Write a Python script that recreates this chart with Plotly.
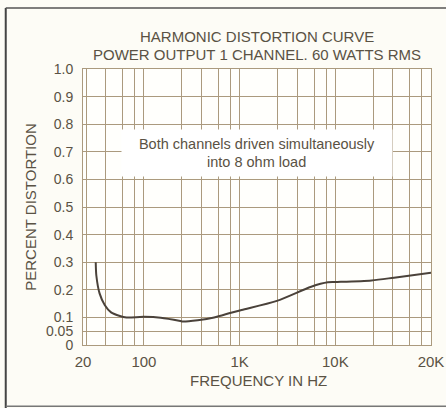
import numpy as np
import plotly.graph_objects as go

# Curve (frequency in Hz, percent distortion)
freq_hz = [28, 28.5, 31, 35.5, 42, 53, 63, 100, 150, 240, 255, 365, 542, 815,
           1050, 2450, 5600, 8350, 10000, 13000, 15300, 20000]
distortion = [0.300, 0.250, 0.187, 0.145, 0.118, 0.105, 0.100, 0.102, 0.099,
              0.087, 0.085, 0.090, 0.100, 0.117, 0.127, 0.160, 0.211, 0.227,
              0.228, 0.234, 0.244, 0.262]

# x tick labels as printed on the chart
x_tick_labels = ["20", "100", "1K", "10K", "20K"]
x_tick_hz = [20, 100, 1000, 10000, 20000]
# y tick labels
y_tick_vals = [0, 0.05, 0.1, 0.2, 0.3, 0.4, 0.5, 0.6, 0.7, 0.8, 0.9, 1.0]
y_tick_labels = ["0", "0.05", "0.1", "0.2", "0.3", "0.4", "0.5", "0.6",
                 "0.7", "0.8", "0.9", "1.0"]

# The printed graph paper is a log grid whose end labels (20, 20K) sit on the
# paper's edges; the paper positions of the labelled ticks:
paper_pos_hz = [23.1, 100, 1000, 10000, 100000]
paper_minor_hz = [25, 40, 60, 80, 250, 400, 600, 800, 2500, 4000, 6000, 8000,
                  25000, 40000, 60000, 80000]


def to_paper(f):
    return 10 ** np.interp(np.log10(f), np.log10(x_tick_hz), np.log10(paper_pos_hz))


x_plot = to_paper(np.array(freq_hz, dtype=float))

TXT = "#5a5244"
GRID = "#ab9a7e"
FONT = "Liberation Sans, Arial, sans-serif"

fig = go.Figure()
fig.add_trace(go.Scatter(
    x=x_plot, y=distortion, mode="lines",
    line=dict(color="#4a423a", width=2, shape="spline", smoothing=0.8),
    hoverinfo="skip", showlegend=False,
))

fig.update_xaxes(
    type="log", range=[np.log10(23.1), 5.0],
    tickmode="array", tickvals=paper_pos_hz, ticktext=x_tick_labels,
    showgrid=True, gridcolor=GRID, gridwidth=1,
    minor=dict(tickmode="array", tickvals=paper_minor_hz, showgrid=True,
               gridcolor=GRID, gridwidth=1, ticks=""),
    showline=True, mirror=True, linecolor=GRID, linewidth=1,
    ticks="", ticklabelstandoff=3, automargin=False,
    tickfont=dict(family=FONT, size=15, color=TXT),
    zeroline=False, fixedrange=True,
)
fig.update_yaxes(
    range=[0, 1.0], tickmode="array", tickvals=y_tick_vals, ticktext=y_tick_labels,
    showgrid=True, gridcolor=GRID, gridwidth=1,
    showline=True, mirror=True, linecolor=GRID, linewidth=1,
    ticks="", ticklabelstandoff=6, automargin=False,
    tickfont=dict(family=FONT, size=14, color=TXT),
    zeroline=False, fixedrange=True,
)

annotations = [
    dict(text="HARMONIC DISTORTION CURVE", x=0.5, y=1.116, xref="paper", yref="paper",
         showarrow=False, xanchor="center", yanchor="middle",
         font=dict(family=FONT, size=15, color=TXT)),
    dict(text="POWER OUTPUT 1 CHANNEL. 60 WATTS RMS", x=0.5, y=1.051, xref="paper",
         yref="paper", showarrow=False, xanchor="center", yanchor="middle",
         font=dict(family=FONT, size=15, color=TXT)),
    dict(text="FREQUENCY IN HZ", x=0.503, y=-0.129, xref="paper", yref="paper",
         showarrow=False, xanchor="center", yanchor="middle",
         font=dict(family=FONT, size=15, color=TXT)),
    dict(text="PERCENT DISTORTION", x=-0.153, y=0.5, xref="paper", yref="paper",
         showarrow=False, xanchor="center", yanchor="middle", textangle=-90,
         font=dict(family=FONT, size=15, color=TXT)),
    dict(text="Both channels driven simultaneously<br>into 8 ohm load",
         x=0.501, y=0.696, xref="paper", yref="paper", showarrow=False,
         xanchor="center", yanchor="middle", width=268, height=44,
         bgcolor="#ffffff", align="center", valign="middle",
         font=dict(family=FONT, size=14.5, color=TXT)),
]

shapes = [
    dict(type="line", xref="paper", yref="paper", x0=-0.222, x1=-0.222,
         y0=1.221, y1=-0.23, line=dict(color="#444444", width=2)),
    dict(type="line", xref="paper", yref="paper", x0=-0.222, x1=1.05,
         y0=1.221, y1=1.221, line=dict(color="#555555", width=1.5)),
    dict(type="line", xref="paper", yref="paper", x0=-0.222, x1=1.05,
         y0=-0.222, y1=-0.222, line=dict(color="#777777", width=1.5)),
]

fig.update_layout(
    width=446, height=408,
    margin=dict(l=83, r=15, t=69, b=63, autoexpand=False),
    paper_bgcolor="#fdfcf6", plot_bgcolor="#fffffc",
    annotations=annotations, shapes=shapes,
    showlegend=False,
)

fig.write_html("out.html", config={"displayModeBar": False},
               post_script="document.body.style.margin='0';document.body.style.background='#fdfcf6';")
